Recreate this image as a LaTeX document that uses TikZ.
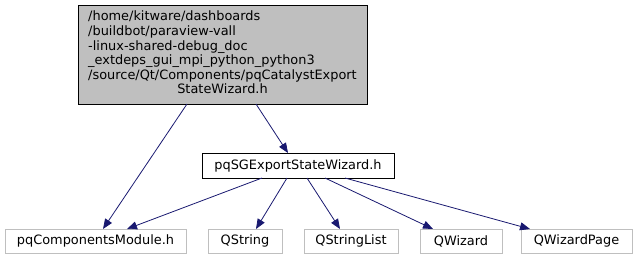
\documentclass[tikz,border=0pt]{standalone}
\usepackage{fontspec}
\setmainfont{DejaVu Sans}
\usetikzlibrary{arrows.meta}
\definecolor{edgeblue}{RGB}{25,25,112}
\definecolor{boxgray}{RGB}{191,191,191}
\definecolor{extgray}{RGB}{191,191,191}
\begin{document}
\begin{tikzpicture}[x=1pt,y=-1pt,
  every node/.style={font=\fontsize{12.9}{14.6}\selectfont, inner sep=0pt, outer sep=0pt},
  mainbox/.style={draw=black, fill=boxgray, line width=0.9pt, minimum width=289pt, minimum height=99pt},
  hdrbox/.style={draw=black, fill=white, line width=0.9pt, minimum width=192pt, minimum height=25pt},
  extbox/.style={draw=extgray, fill=white, line width=0.9pt, minimum height=24pt},
  dep/.style={draw=edgeblue, line width=0.8pt, -{Triangle[length=10pt,width=8pt]}}]
\useasboundingbox (0,0) rectangle (637,260);

% the documented header
\node[mainbox] (top) at (222.5,54.5) {%
  \begin{tabular}{@{}l@{}}
  /home/kitware/dashboards\\
  /buildbot/paraview-vall\\
  -linux-shared-debug\_doc\\
  \_extdeps\_gui\_mpi\_python\_python3\\
  /source/Qt/Components/pqCatalystExport\\
  \multicolumn{1}{@{}c@{}}{StateWizard.h}
  \end{tabular}};

% included header
\node[hdrbox] (mid) at (298,165.5) {pqSGExportStateWizard.h};

% external includes
\node[extbox, minimum width=181pt] (pqcm)  at (95.5,241) {pqComponentsModule.h};
\node[extbox, minimum width=74pt]  (qstr)  at (245,241)  {QString};
\node[extbox, minimum width=94pt]  (qsl)   at (351,241)  {QStringList};
\node[extbox, minimum width=82pt]  (qwiz)  at (461,241)  {QWizard};
\node[extbox, minimum width=111pt] (qwp)   at (576.5,241) {QWizardPage};

% include edges
\draw[dep] ([xshift=109pt]top.south west) -- ([xshift=98pt]pqcm.north west);
\draw[dep] ([xshift=178pt]top.south west) -- ([xshift=86pt]mid.north west);
\draw[dep] ([xshift=60pt]mid.south west)  -- ([xshift=122pt]pqcm.north west);
\draw[dep] ([xshift=85pt]mid.south west)  -- ([xshift=48pt]qstr.north west);
\draw[dep] ([xshift=105pt]mid.south west) -- ([xshift=36pt]qsl.north west);
\draw[dep] ([xshift=123pt]mid.south west) -- ([xshift=13pt]qwiz.north west);
\draw[dep] ([xshift=143pt]mid.south west) -- ([xshift=9pt]qwp.north west);
\end{tikzpicture}
\end{document}
